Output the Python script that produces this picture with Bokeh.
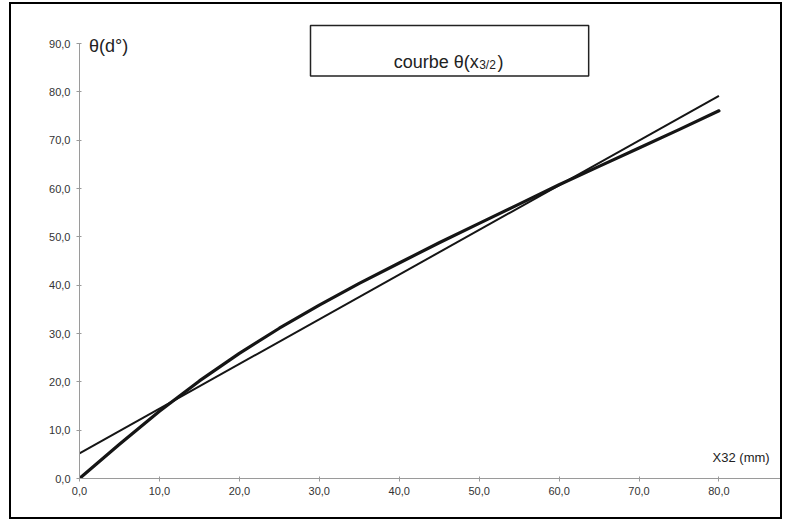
from bokeh.plotting import figure
from bokeh.models import Range1d, FixedTicker, Label, BoxAnnotation
from bokeh.embed import file_html
from bokeh.resources import INLINE

# ---- data ----
x_curve = [0, 5, 10, 15, 20, 25, 30, 35, 40, 45, 50, 55, 60, 65, 70, 75, 80]
theta_curve = [0.0, 7.1, 13.9, 20.2, 25.9, 31.1, 35.9, 40.4, 44.6, 48.8, 52.8, 56.8, 60.8, 64.6, 68.4, 72.2, 76.1]

x_line = [0, 80]
theta_line = [5.2, 79.2]

x_ticks = [0, 10, 20, 30, 40, 50, 60, 70, 80]
x_tick_labels = ["0,0", "10,0", "20,0", "30,0", "40,0", "50,0", "60,0", "70,0", "80,0"]
y_ticks = [0, 10, 20, 30, 40, 50, 60, 70, 80, 90]
y_tick_labels = ["0,0", "10,0", "20,0", "30,0", "40,0", "50,0", "60,0", "70,0", "80,0", "90,0"]

title_text = "courbe θ(x"
title_sub = "3/2"
title_close = ")"
y_label = "θ(d°)"
x_label = "X32 (mm)"

FONT = "Liberation Sans"
INK = "#151515"

p = figure(width=773, height=517, output_backend="svg", toolbar_location=None,
           x_range=Range1d(0, 88.2), y_range=Range1d(0, 95),
           min_border_left=68, min_border_right=0, min_border_top=15, min_border_bottom=43,
           styles={"border": "2px solid #000", "margin-left": "9px", "margin-top": "2px"})
p.background_fill_color = "white"
p.border_fill_color = "white"
p.outline_line_color = None
p.grid.visible = False

for ax, ticks, labels in ((p.xaxis[0], x_ticks, x_tick_labels), (p.yaxis[0], y_ticks, y_tick_labels)):
    ax.ticker = FixedTicker(ticks=ticks)
    ax.major_label_overrides = {t: l for t, l in zip(ticks, labels)}
    ax.axis_line_color = "#9a9a9a"
    ax.axis_line_width = 1
    ax.major_tick_line_color = "#9a9a9a"
    ax.major_tick_in = 2
    ax.major_tick_out = 3
    ax.minor_tick_line_color = None
    ax.major_label_text_font = FONT
    ax.major_label_text_font_size = "11px"
    ax.major_label_text_color = "#333333"
p.yaxis[0].bounds = (0, 90)
p.xaxis[0].major_label_standoff = 5
p.yaxis[0].major_label_standoff = 6

p.line(x_line, theta_line, line_color=INK, line_width=2)
p.line(x_curve, theta_curve, line_color=INK, line_width=3.2, line_join="round", line_cap="round")

p.add_layout(BoxAnnotation(left=28.9, right=63.7, bottom=83.3, top=93.75,
                           fill_color="white", fill_alpha=1.0,
                           line_color="#222222", line_alpha=1.0, line_width=1.5))
p.add_layout(Label(x=39.3, y=86.3, text=title_text, text_font=FONT, text_font_size="18px",
                   text_color="#222222", text_baseline="alphabetic"))
p.add_layout(Label(x=50.0, y=85.5, text=title_sub, text_font=FONT, text_font_size="12px",
                   text_color="#222222", text_baseline="alphabetic"))
p.add_layout(Label(x=52.3, y=86.3, text=title_close, text_font=FONT, text_font_size="18px",
                   text_color="#222222", text_baseline="alphabetic"))
p.add_layout(Label(x=1.2, y=89.5, text=y_label, text_font=FONT, text_font_size="18px",
                   text_color="#222222", text_baseline="alphabetic"))
p.add_layout(Label(x=79.2, y=4.3, text=x_label, text_font=FONT, text_font_size="13px",
                   text_color="#222222", text_baseline="alphabetic"))

open("out.html", "w").write(file_html(p, INLINE))
